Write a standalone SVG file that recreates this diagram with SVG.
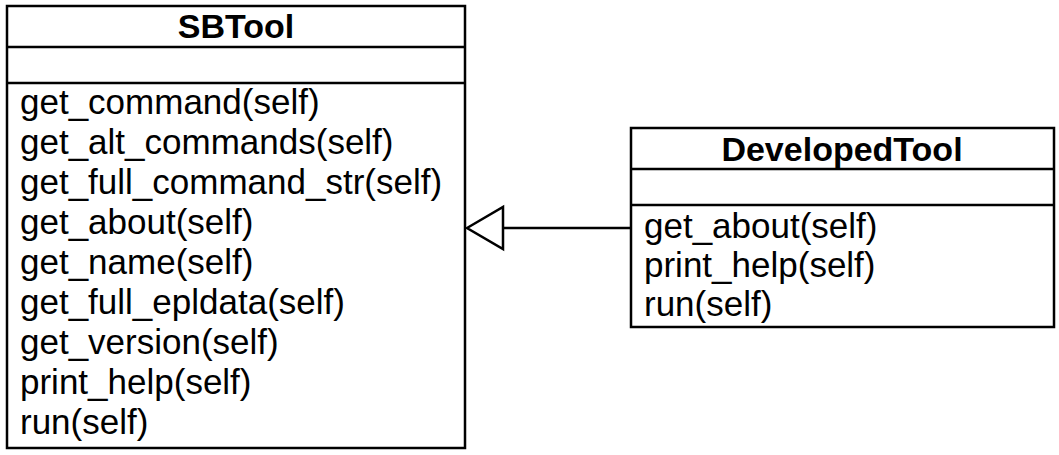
<svg xmlns="http://www.w3.org/2000/svg" width="1059" height="455" viewBox="0 0 1059 455">
<style>
.box{fill:#fff;stroke:#000;stroke-width:2.5}
.ln{stroke:#000;stroke-width:2.5;fill:none}
.t{font-family:"Liberation Sans",Arial,sans-serif;font-size:35px;fill:#000}
.h{font-family:"Liberation Sans",Arial,sans-serif;font-size:34px;font-weight:bold;fill:#000;text-anchor:middle}
</style>
<rect width="1059" height="455" fill="#fff"/>
<g id="connectors">
<line class="ln" x1="631" y1="228" x2="503" y2="228"/>
<polygon class="ln" points="467,228 503,207 503,249"/>
</g>
<g id="SBTool">
<rect class="box" x="7" y="6" width="458" height="442"/>
<line class="ln" x1="7" y1="47" x2="465" y2="47"/>
<line class="ln" x1="7" y1="83" x2="465" y2="83"/>
<text class="h" x="236" y="38">SBTool</text>
<text class="t" x="20" y="114">get_command(self)</text>
<text class="t" x="20" y="154">get_alt_commands(self)</text>
<text class="t" x="20" y="194">get_full_command_str(self)</text>
<text class="t" x="20" y="234">get_about(self)</text>
<text class="t" x="20" y="274">get_name(self)</text>
<text class="t" x="20" y="314">get_full_epldata(self)</text>
<text class="t" x="20" y="354">get_version(self)</text>
<text class="t" x="20" y="394">print_help(self)</text>
<text class="t" x="20" y="434">run(self)</text>
</g>
<g id="DevelopedTool">
<rect class="box" x="631" y="128" width="423" height="199"/>
<line class="ln" x1="631" y1="169" x2="1054" y2="169"/>
<line class="ln" x1="631" y1="205" x2="1054" y2="205"/>
<text class="h" x="842" y="161">DevelopedTool</text>
<text class="t" x="644" y="238">get_about(self)</text>
<text class="t" x="644" y="277">print_help(self)</text>
<text class="t" x="644" y="316">run(self)</text>
</g>
</svg>
